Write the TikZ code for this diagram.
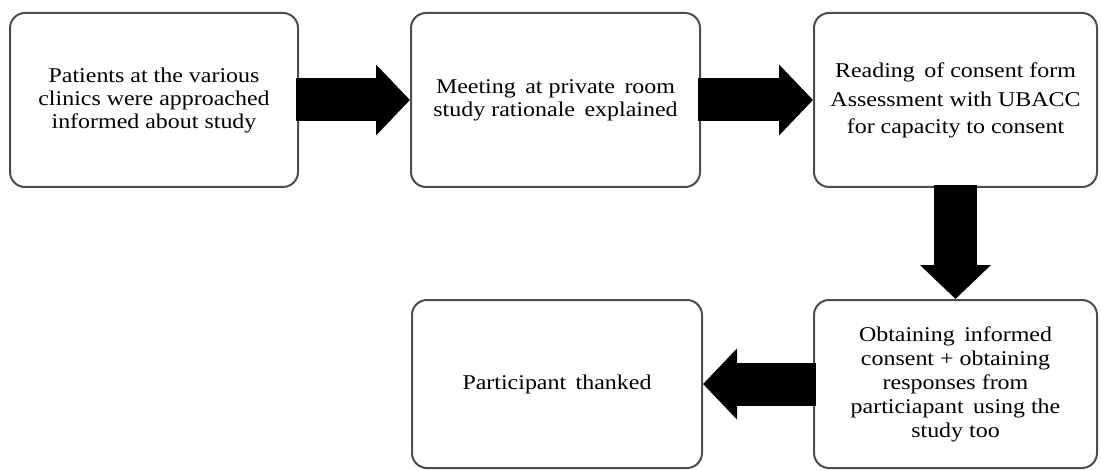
\documentclass[tikz,border=0pt]{standalone}
\usepackage{fontspec}
\setmainfont{Liberation Serif}[FakeStretch=1.14]
\usepackage{xcolor}
\definecolor{grisOscuro}{RGB}{77, 77, 77}
\usepackage{tikz}
\usetikzlibrary{arrows.meta,shapes,calc,positioning}
\tikzstyle{box}   =[rectangle, draw=grisOscuro, rounded corners=7.5pt,
                    line width=1pt, inner sep=0pt, align=center,
                    font=\fontsize{10.5}{11.5}\selectfont]
\tikzstyle{fatedge}=[-{Triangle[length=17pt,width=34.5pt]},
                    line width=21.5pt, shorten <=-1.5pt, black]

\begin{document}
\begin{tikzpicture}[x=0.5pt,y=-0.5pt]
    \useasboundingbox (0,0) rectangle (1101,470);

        \draw (154,100) node (1) [box, minimum width=144pt, minimum height=87pt]
            {Patients at the various\\clinics were approached\\informed about study};
        \draw (555.5,100) node (2) [box, minimum width=144.5pt, minimum height=87pt]
            {Meeting\, at private\, room\\study rationale\, explained};
        \draw (955.5,100) node (3) [box, minimum width=141.5pt, minimum height=87pt]
            {Reading\, of consent form\\[3pt]Assessment with UBACC\\[2pt]for capacity to consent};
        \draw (955.5,384) node (4) [box, minimum width=141.5pt, minimum height=84pt,
            font=\fontsize{10.5}{12}\selectfont]
            {Obtaining\, informed\\consent + obtaining\\responses from\\particiapant\, using the\\study too};
        \draw (557,384) node (5) [box, minimum width=145pt, minimum height=84pt]
            {Participant\, thanked};

        \foreach \i/\j in {1/2,2/3,3/4,4/5}
            \draw [fatedge] (\i) to (\j);

\end{tikzpicture}
\end{document}
